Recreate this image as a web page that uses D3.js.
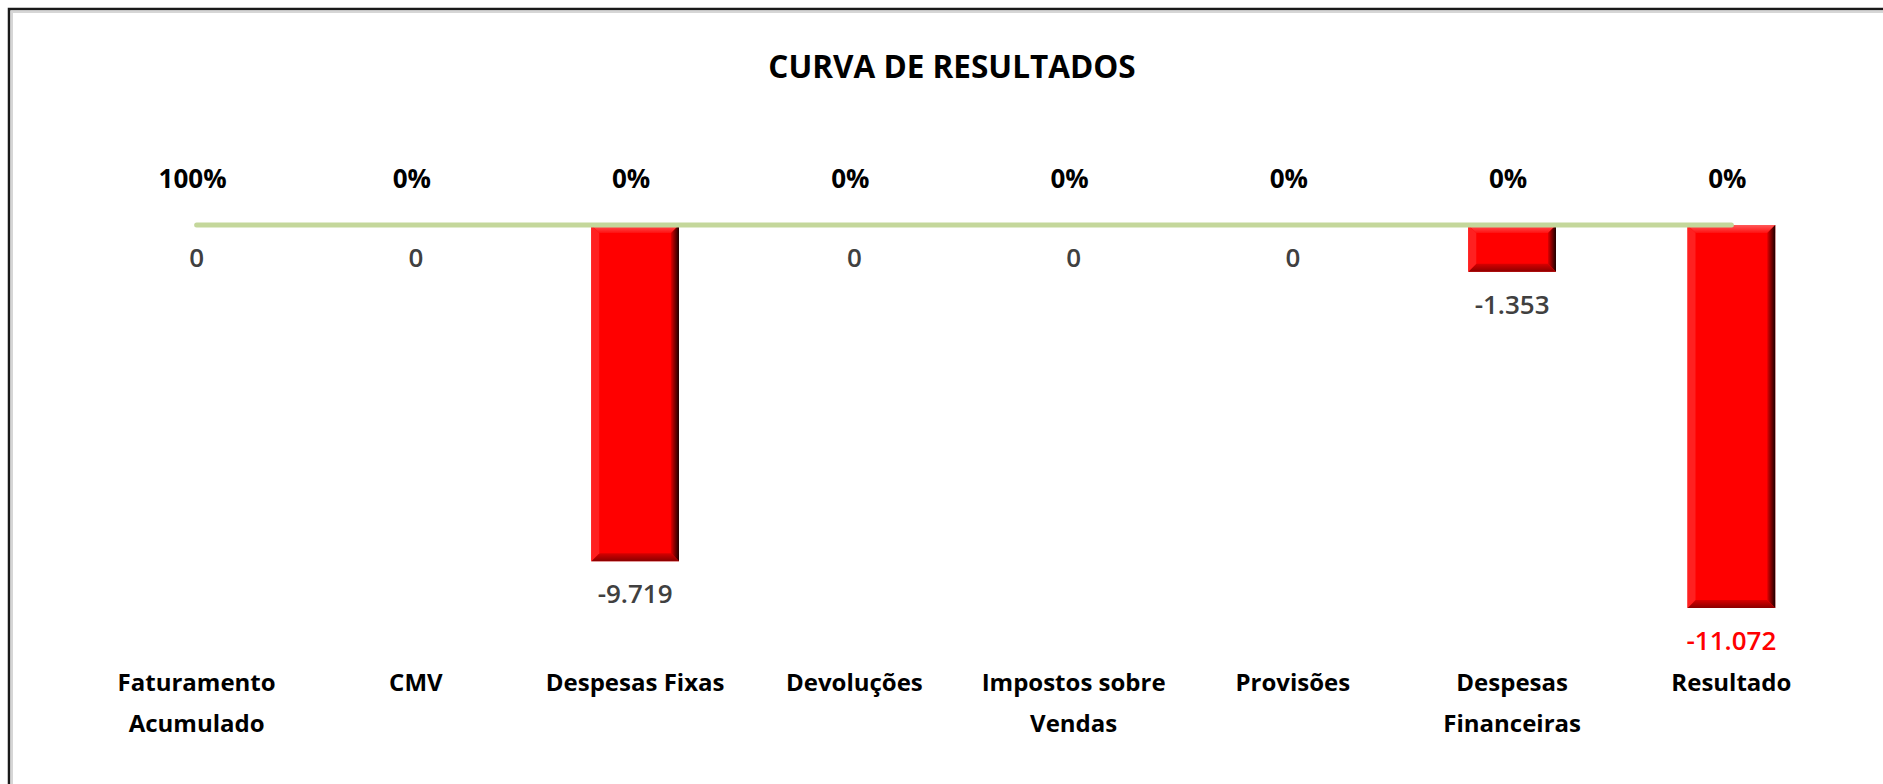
<!doctype html>
<html lang="pt">
  <head>
    <meta charset="utf-8">
    <title>Curva de Resultados</title>
    <style>
      html, body { margin: 0; padding: 0; background: #fff; }
      svg { display: block; font-family: "Open Sans", "Noto Sans", sans-serif; }
    </style>
  </head>
  <body>
    <div class="holder"></div>
    <script src="https://cdn.jsdelivr.net/npm/d3@7/dist/d3.min.js"></script>
    <script>
      // data
      var categories = [
        ["Faturamento", "Acumulado"],
        ["CMV"],
        ["Despesas Fixas"],
        ["Devoluções"],
        ["Impostos sobre", "Vendas"],
        ["Provisões"],
        ["Despesas", "Financeiras"],
        ["Resultado"]
      ];
      var values = [0, 0, -9719, 0, 0, 0, -1353, -11072];
      var percents = [1, 0, 0, 0, 0, 0, 0, 0];

      var width = 1883, height = 784;
      var keys = categories.map(function(c) { return c.join(" "); });

      var fmtNum = function(v) {
        // pt-BR thousands separator
        return d3.format(",d")(v).replace(/,/g, ".").replace("−", "-");
      };
      var fmtPct = d3.format(".0%");

      var svg = d3.select(".holder")
          .append("svg")
          .attr("width", width)
          .attr("height", height);

      // frame (only top and left edge show in the picture)
      svg.append("path")
          .attr("d", "M9," + (height + 5) + "V9H" + (width + 5))
          .attr("fill", "none")
          .attr("stroke", "#1a1a1a")
          .attr("stroke-width", 2.5);
      svg.append("path")
          .attr("d", "M12," + (height + 5) + "V12H" + (width + 5))
          .attr("fill", "none")
          .attr("stroke", "#d6d6d6")
          .attr("stroke-width", 2);

      svg.append("text")
          .attr("x", 952)
          .attr("y", 78)
          .attr("text-anchor", "middle")
          .style("font-size", "31.5px")
          .style("font-weight", 700)
          .style("fill", "#000")
          .text("CURVA DE RESULTADOS");

      var x = d3.scalePoint()
          .domain(keys)
          .range([87, 1841])
          .padding(0.5);
      var barW = x.step() * 0.4;

      var y = d3.scaleLinear()
          .domain([d3.min(values), 0])
          .range([608, 225]);

      var defs = svg.append("defs");
      var gRight = defs.append("linearGradient").attr("id", "bevR").attr("x1", 0).attr("x2", 1).attr("y1", 0).attr("y2", 0);
      gRight.append("stop").attr("offset", "0%").attr("stop-color", "#e00000");
      gRight.append("stop").attr("offset", "100%").attr("stop-color", "#1a0000");
      var gBot = defs.append("linearGradient").attr("id", "bevB").attr("x1", 0).attr("x2", 0).attr("y1", 0).attr("y2", 1);
      gBot.append("stop").attr("offset", "0%").attr("stop-color", "#d80000");
      gBot.append("stop").attr("offset", "100%").attr("stop-color", "#8a0000");
      var gTop = defs.append("linearGradient").attr("id", "bevT").attr("x1", 0).attr("x2", 0).attr("y1", 0).attr("y2", 1);
      gTop.append("stop").attr("offset", "0%").attr("stop-color", "#ff5a5a");
      gTop.append("stop").attr("offset", "100%").attr("stop-color", "#ff1010");

      var rows = keys.map(function(k, i) {
        return { key: k, lines: categories[i], value: values[i], pct: percents[i] };
      });

      // bars with a bevel
      var bev = 8;
      var bars = svg.append("g").selectAll("g")
          .data(rows.filter(function(d) { return d.value !== 0; }))
          .enter().append("g");

      bars.each(function(d) {
        var g = d3.select(this);
        var x0 = x(d.key) - barW / 2, x1 = x(d.key) + barW / 2;
        var y0 = y(0), y1 = y(d.value);
        g.append("rect")
            .attr("x", x0).attr("y", y0)
            .attr("width", barW).attr("height", y1 - y0)
            .attr("fill", "#ff0000");
        g.append("path")
            .attr("d", "M" + x0 + "," + y0 + "H" + x1 + "L" + (x1 - bev) + "," + (y0 + bev) + "H" + (x0 + bev) + "Z")
            .attr("fill", "url(#bevT)");
        g.append("path")
            .attr("d", "M" + x1 + "," + y0 + "V" + y1 + "L" + (x1 - bev) + "," + (y1 - bev) + "V" + (y0 + bev) + "Z")
            .attr("fill", "url(#bevR)");
        g.append("path")
            .attr("d", "M" + x0 + "," + y1 + "H" + x1 + "L" + (x1 - bev) + "," + (y1 - bev) + "H" + (x0 + bev) + "Z")
            .attr("fill", "url(#bevB)");
        g.append("path")
            .attr("d", "M" + x0 + "," + y0 + "V" + y1 + "L" + (x0 + bev) + "," + (y1 - bev) + "V" + (y0 + bev) + "Z")
            .attr("fill", "#ff2020");
      });

      // flat line along the baseline
      var line = d3.line()
          .x(function(d) { return x(d.key); })
          .y(function() { return y(0); });
      svg.append("path")
          .datum(rows)
          .attr("d", line)
          .attr("fill", "none")
          .attr("stroke", "#c4d79b")
          .attr("stroke-width", 5)
          .attr("stroke-linecap", "round");

      // percentage labels above the line
      svg.append("g").selectAll("text")
          .data(rows)
          .enter().append("text")
          .attr("x", function(d) { return x(d.key) - 4; })
          .attr("y", y(0) - 37)
          .attr("text-anchor", "middle")
          .style("font-size", "26px")
          .style("font-weight", 700)
          .style("fill", "#000")
          .text(function(d) { return fmtPct(d.pct); });

      // value labels below bar ends
      svg.append("g").selectAll("text")
          .data(rows)
          .enter().append("text")
          .attr("x", function(d) { return x(d.key); })
          .attr("y", function(d) { return y(d.value) + 42; })
          .attr("text-anchor", "middle")
          .style("font-size", "26px")
          .style("font-weight", 600)
          .style("fill", function(d, i) { return i === rows.length - 1 ? "#ff0000" : "#404040"; })
          .text(function(d) { return fmtNum(d.value); });

      // category labels
      var cat = svg.append("g").selectAll("text")
          .data(rows)
          .enter().append("text")
          .attr("x", function(d) { return x(d.key); })
          .attr("y", 691)
          .attr("text-anchor", "middle")
          .style("font-size", "24px")
          .style("font-weight", 700)
          .style("fill", "#000");
      cat.selectAll("tspan")
          .data(function(d) { return d.lines; })
          .enter().append("tspan")
          .attr("x", function() { return x(d3.select(this.parentNode).datum().key); })
          .attr("dy", function(d, i) { return i === 0 ? 0 : 41; })
          .text(function(d) { return d; });
    </script>
  </body>
</html>
